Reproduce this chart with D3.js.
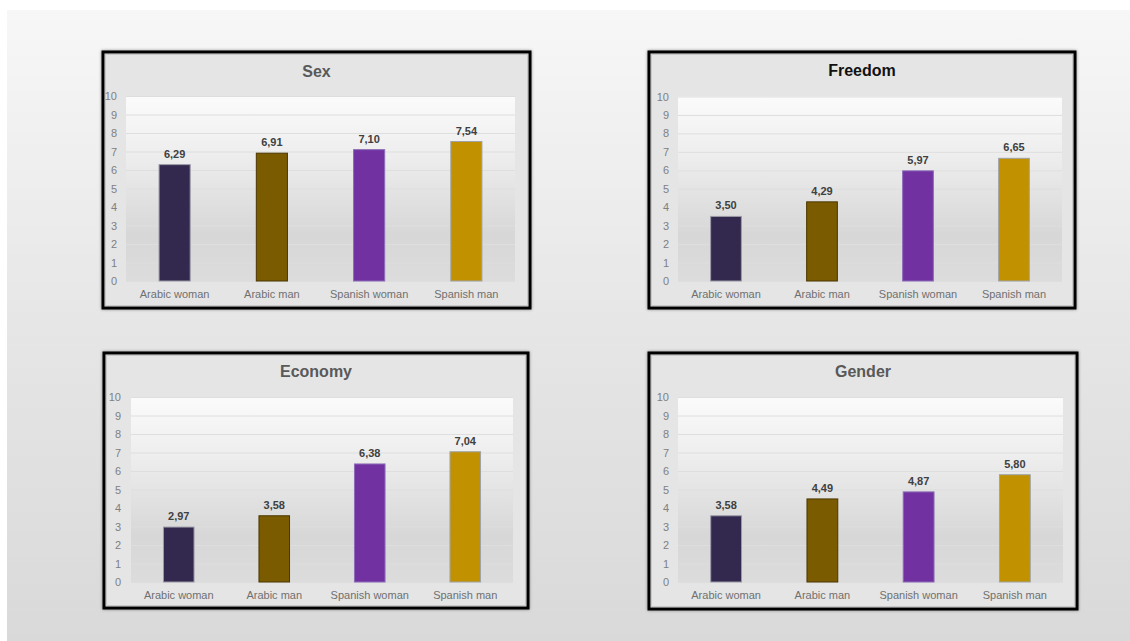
<!DOCTYPE html>
<html>
<head>
<meta charset="utf-8">
<script src="https://cdn.jsdelivr.net/npm/d3@7/dist/d3.min.js"></script>
<style>
  html, body { margin: 0; padding: 0; background: #ffffff; }
  svg { display: block; font-family: "Liberation Sans", Arial, Helvetica, sans-serif; }
</style>
</head>
<body>
<svg id="chart" width="1130" height="641"></svg>
<script>
// Survey scores (0-10) by group, one array per topic
const categories = ["Arabic woman", "Arabic man", "Spanish woman", "Spanish man"];
const titles = ["Sex", "Freedom", "Economy", "Gender"];
const sexValues = [6.29, 6.91, 7.10, 7.54];
const freedomValues = [3.50, 4.29, 5.97, 6.65];
const economyValues = [2.97, 3.58, 6.38, 7.04];
const genderValues = [3.58, 4.49, 4.87, 5.80];
const yTicks = [0, 1, 2, 3, 4, 5, 6, 7, 8, 9, 10];
const barColors = ["#33284d", "#7a5b00", "#7131a1", "#c29100"];
const barStrokes = ["#9d9aa8", "#4a3700", "#8c6cb8", "#9fa3a8"];

const seriesByTitle = {
  "Sex": sexValues,
  "Freedom": freedomValues,
  "Economy": economyValues,
  "Gender": genderValues
};

// Panel frames and plot areas on the slide
const panels = [
  { title: "Sex",     box: [103, 52, 427, 256], plot: [126, 515, 96, 281],   tickRight: 117, titleY: 76.5, titleColor: "#595959" },
  { title: "Freedom", box: [649, 52, 426, 256], plot: [678, 1062, 96.5, 281], tickRight: 669, titleY: 76,   titleColor: "#111111" },
  { title: "Economy", box: [104, 353, 424, 255], plot: [131, 513, 397, 582],  tickRight: 121, titleY: 377,  titleColor: "#595959" },
  { title: "Gender",  box: [649, 353, 428, 256], plot: [678, 1063, 397, 582], tickRight: 669, titleY: 377,  titleColor: "#595959" }
];

const locale = d3.formatLocale({ decimal: ",", thousands: ".", grouping: [3], currency: ["", "€"] });
const fmt = locale.format(".2f");

const svg = d3.select("#chart");
const defs = svg.append("defs");

// Slide background gradient
const slideGrad = defs.append("linearGradient").attr("id", "slideGrad")
  .attr("x1", 0).attr("y1", 0).attr("x2", 0).attr("y2", 1);
slideGrad.append("stop").attr("offset", "0%").attr("stop-color", "#f7f7f7");
slideGrad.append("stop").attr("offset", "50%").attr("stop-color", "#e6e6e6");
slideGrad.append("stop").attr("offset", "100%").attr("stop-color", "#d9d9d9");

// Plot area gradient
const plotGrad = defs.append("linearGradient").attr("id", "plotGrad")
  .attr("x1", 0).attr("y1", 0).attr("x2", 0).attr("y2", 1);
plotGrad.append("stop").attr("offset", "0%").attr("stop-color", "#fbfbfb");
plotGrad.append("stop").attr("offset", "35%").attr("stop-color", "#ececec");
plotGrad.append("stop").attr("offset", "75%").attr("stop-color", "#d7d7d7");
plotGrad.append("stop").attr("offset", "100%").attr("stop-color", "#dcdcdc");

// Soft shadow behind each panel frame
const shadow = defs.append("filter").attr("id", "frameShadow")
  .attr("x", "-5%").attr("y", "-5%").attr("width", "110%").attr("height", "110%");
shadow.append("feDropShadow").attr("dx", 0).attr("dy", 0).attr("stdDeviation", 1.6)
  .attr("flood-color", "#000").attr("flood-opacity", 0.45);

svg.append("rect")
  .attr("x", 7).attr("y", 10).attr("width", 1123).attr("height", 631)
  .attr("fill", "url(#slideGrad)");

panels.forEach(p => {
  const values = seriesByTitle[p.title];
  const [bx, by, bw, bh] = p.box;
  const [x0, x1, yTop, yZero] = p.plot;

  const g = svg.append("g");

  g.append("rect")
    .attr("x", bx).attr("y", by).attr("width", bw).attr("height", bh)
    .attr("fill", "#e5e5e5")
    .attr("stroke", "#000").attr("stroke-width", 3)
    .attr("filter", "url(#frameShadow)");

  g.append("rect")
    .attr("x", bx + 2.5).attr("y", by + 2.5).attr("width", bw - 5).attr("height", bh - 5)
    .attr("fill", "none").attr("stroke", "#c9c9c9").attr("stroke-width", 1);

  const x = d3.scaleBand().domain(categories).range([x0, x1]).paddingInner(0.68).paddingOuter(0.34);
  const y = d3.scaleLinear().domain([0, 10]).range([yZero, yTop]);

  g.append("rect")
    .attr("x", x0).attr("y", yTop).attr("width", x1 - x0).attr("height", yZero - yTop)
    .attr("fill", "url(#plotGrad)");

  g.append("g").selectAll("line").data(yTicks).join("line")
    .attr("x1", x0).attr("x2", x1)
    .attr("y1", d => y(d) + 0.5).attr("y2", d => y(d) + 0.5)
    .attr("stroke", "#dedede").attr("stroke-width", 1);

  g.append("text")
    .attr("x", bx + bw / 2).attr("y", p.titleY)
    .attr("text-anchor", "middle")
    .attr("font-size", 16).attr("font-weight", "bold")
    .attr("fill", p.titleColor)
    .text(p.title);

  const yAxis = g.append("g").attr("transform", `translate(${x0},0)`)
    .call(d3.axisLeft(y).tickValues(yTicks).tickSize(0).tickPadding(x0 - p.tickRight));
  yAxis.select(".domain").remove();
  yAxis.selectAll("text").attr("font-size", 11).attr("fill", "#808080")
    .attr("font-family", "'Liberation Sans', Arial, sans-serif");

  const xAxis = g.append("g").attr("transform", `translate(0,${yZero})`)
    .call(d3.axisBottom(x).tickSize(0).tickPadding(9));
  xAxis.select(".domain").remove();
  xAxis.selectAll("text").attr("font-size", 11).attr("fill", "#707070")
    .attr("font-family", "'Liberation Sans', Arial, sans-serif");

  const bars = categories.map((c, i) => ({ c, v: values[i], i }));

  g.append("g").selectAll("rect").data(bars).join("rect")
    .attr("x", d => x(d.c)).attr("width", x.bandwidth())
    .attr("y", d => y(d.v)).attr("height", d => y(0) - y(d.v))
    .attr("fill", d => barColors[d.i])
    .attr("stroke", d => barStrokes[d.i]).attr("stroke-width", 1);

  g.append("g").selectAll("text").data(bars).join("text")
    .attr("x", d => x(d.c) + x.bandwidth() / 2)
    .attr("y", d => y(d.v) - 7)
    .attr("text-anchor", "middle")
    .attr("font-size", 11).attr("font-weight", "bold")
    .attr("fill", "#404040")
    .text(d => fmt(d.v));
});
</script>
</body>
</html>
